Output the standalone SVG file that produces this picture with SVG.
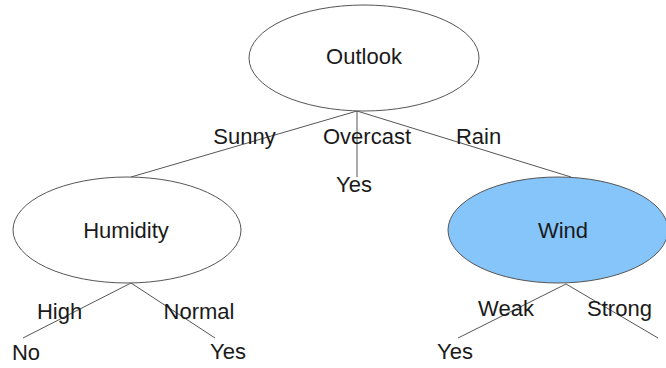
<svg xmlns="http://www.w3.org/2000/svg" width="666" height="368" viewBox="0 0 666 368">
<style>
.node{fill:#ffffff;stroke:#555555;stroke-width:1}
.blue{fill:#86c5fa}
.t{font-family:"Liberation Sans",Arial,sans-serif;font-size:22px;fill:#1a1a1a;text-anchor:middle}
.c{stroke:#555555;stroke-width:1;fill:none}
</style>
<rect width="666" height="368" fill="#ffffff"/>
<g id="connectors">
<line class="c" x1="357" y1="111" x2="131" y2="177"/>
<line class="c" x1="357" y1="111" x2="357" y2="177"/>
<line class="c" x1="357" y1="111" x2="571" y2="177"/>
<line class="c" x1="131" y1="283" x2="23" y2="338"/>
<line class="c" x1="131" y1="283" x2="215" y2="338"/>
<line class="c" x1="566" y1="284" x2="458" y2="338"/>
<line class="c" x1="566" y1="284" x2="658" y2="338"/>
</g>
<g id="labels">
<text class="t" x="244.5" y="144">Sunny</text>
<text class="t" x="367" y="144">Overcast</text>
<text class="t" x="478.5" y="144">Rain</text>
<text class="t" x="59.5" y="319">High</text>
<text class="t" x="199" y="319">Normal</text>
<text class="t" x="506" y="316">Weak</text>
<text class="t" x="619.5" y="316">Strong</text>
</g>
<g id="outlook">
<ellipse class="node" cx="364" cy="58" rx="115" ry="53"/>
<text class="t" x="364" y="64">Outlook</text>
</g>
<g id="humidity">
<ellipse class="node" cx="127" cy="230" rx="114" ry="53"/>
<text class="t" x="126" y="238">Humidity</text>
</g>
<g id="wind">
<ellipse class="node blue" cx="558" cy="230" rx="110" ry="53"/>
<text class="t" x="563" y="238">Wind</text>
</g>
<g id="leaf-overcast-yes"><text class="t" x="354" y="192">Yes</text></g>
<g id="leaf-high-no"><text class="t" x="26" y="360">No</text></g>
<g id="leaf-normal-yes"><text class="t" x="228" y="359">Yes</text></g>
<g id="leaf-weak-yes"><text class="t" x="455" y="359">Yes</text></g>
</svg>
